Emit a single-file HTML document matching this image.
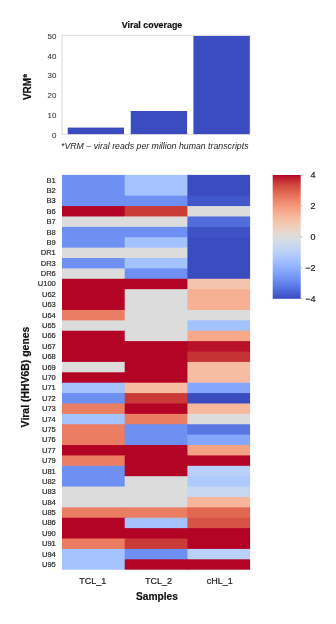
<!DOCTYPE html>
<html><head><meta charset="utf-8"><title>Viral coverage</title>
<style>
html,body{margin:0;padding:0;background:#fff;}
body{width:336px;height:624px;position:relative;overflow:hidden;font-family:"Liberation Sans",sans-serif;color:#222;}
.a{position:absolute;}
.t{position:absolute;white-space:nowrap;line-height:1;}
#tx{position:absolute;left:0;top:0;width:336px;height:624px;will-change:transform;-webkit-text-stroke:0.2px currentColor;}
.c{position:absolute;}
.yl{position:absolute;white-space:nowrap;line-height:1;font-size:7.55px;text-align:right;width:40px;color:#2a2a2a;}
.bt{position:absolute;white-space:nowrap;line-height:1;font-size:7.9px;text-align:right;width:30px;color:#3a3a3a;-webkit-text-stroke:0.08px currentColor;}
.xl{position:absolute;white-space:nowrap;line-height:1;font-size:9.0px;text-align:center;width:60px;color:#222;}
.cl{position:absolute;white-space:nowrap;line-height:1;font-size:9.0px;text-align:right;width:20px;color:#222;}
.rot{position:absolute;white-space:nowrap;line-height:1;font-weight:bold;transform:translate(-50%,-50%) rotate(-90deg);color:#111;}
</style></head><body>
<svg class="a" style="left:0;top:0;" width="336" height="624" viewBox="0 0 336 624"><defs><linearGradient id="cw" x1="0" y1="0" x2="0" y2="1"><stop offset="0.0000" stop-color="#b40426"/><stop offset="0.0312" stop-color="#be242e"/><stop offset="0.0625" stop-color="#ca3b37"/><stop offset="0.0938" stop-color="#d44e41"/><stop offset="0.1250" stop-color="#dd5f4b"/><stop offset="0.1562" stop-color="#e46e56"/><stop offset="0.1875" stop-color="#eb7d62"/><stop offset="0.2188" stop-color="#f08b6e"/><stop offset="0.2500" stop-color="#f4987a"/><stop offset="0.2812" stop-color="#f6a586"/><stop offset="0.3125" stop-color="#f7b093"/><stop offset="0.3438" stop-color="#f7ba9f"/><stop offset="0.3750" stop-color="#f5c4ac"/><stop offset="0.4062" stop-color="#f1ccb8"/><stop offset="0.4375" stop-color="#ecd3c5"/><stop offset="0.4688" stop-color="#e5d8d1"/><stop offset="0.5000" stop-color="#dddcdc"/><stop offset="0.5312" stop-color="#d5dbe5"/><stop offset="0.5625" stop-color="#ccd9ed"/><stop offset="0.5938" stop-color="#c3d5f4"/><stop offset="0.6250" stop-color="#b9d0f9"/><stop offset="0.6562" stop-color="#aec9fc"/><stop offset="0.6875" stop-color="#a3c2fe"/><stop offset="0.7188" stop-color="#98b9ff"/><stop offset="0.7500" stop-color="#8db0fe"/><stop offset="0.7812" stop-color="#82a6fb"/><stop offset="0.8125" stop-color="#779af7"/><stop offset="0.8438" stop-color="#6c8ff1"/><stop offset="0.8750" stop-color="#6282ea"/><stop offset="0.9062" stop-color="#5875e1"/><stop offset="0.9375" stop-color="#4e68d8"/><stop offset="0.9688" stop-color="#445acc"/><stop offset="1.0000" stop-color="#3b4cc0"/></linearGradient></defs><path d="M250.3 35.4H62V134.4H250.3" fill="none" stroke="#e1e1e1" stroke-width="1.3"/><path d="M250.3 35.4V134.4" fill="none" stroke="#ececec" stroke-width="0.8"/><rect x="67.70" y="127.60" width="56.30" height="6.50" fill="#3b4cc0"/><rect x="130.75" y="111.00" width="56.35" height="23.10" fill="#3b4cc0"/><rect x="193.40" y="36.00" width="56.40" height="98.10" fill="#3b4cc0"/><rect x="62.00" y="174.90" width="63.70" height="11.39" fill="#6e90f2"/><rect x="124.70" y="174.90" width="63.70" height="11.39" fill="#a3c2fe"/><rect x="187.40" y="174.90" width="62.70" height="11.39" fill="#3b4cc0"/><rect x="62.00" y="185.29" width="63.70" height="11.39" fill="#6e90f2"/><rect x="124.70" y="185.29" width="63.70" height="11.39" fill="#a3c2fe"/><rect x="187.40" y="185.29" width="62.70" height="11.39" fill="#3b4cc0"/><rect x="62.00" y="195.68" width="63.70" height="11.39" fill="#6e90f2"/><rect x="124.70" y="195.68" width="63.70" height="11.39" fill="#6e90f2"/><rect x="187.40" y="195.68" width="62.70" height="11.39" fill="#4257c9"/><rect x="62.00" y="206.07" width="63.70" height="11.39" fill="#b40426"/><rect x="124.70" y="206.07" width="63.70" height="11.39" fill="#ca3b37"/><rect x="187.40" y="206.07" width="62.70" height="11.39" fill="#dddcdc"/><rect x="62.00" y="216.46" width="63.70" height="11.39" fill="#dddcdc"/><rect x="124.70" y="216.46" width="63.70" height="11.39" fill="#dddcdc"/><rect x="187.40" y="216.46" width="62.70" height="11.39" fill="#516ddb"/><rect x="62.00" y="226.85" width="63.70" height="11.39" fill="#6e90f2"/><rect x="124.70" y="226.85" width="63.70" height="11.39" fill="#6e90f2"/><rect x="187.40" y="226.85" width="62.70" height="11.39" fill="#3e51c5"/><rect x="62.00" y="237.24" width="63.70" height="11.39" fill="#6e90f2"/><rect x="124.70" y="237.24" width="63.70" height="11.39" fill="#a3c2fe"/><rect x="187.40" y="237.24" width="62.70" height="11.39" fill="#3b4cc0"/><rect x="62.00" y="247.63" width="63.70" height="11.39" fill="#dddcdc"/><rect x="124.70" y="247.63" width="63.70" height="11.39" fill="#dddcdc"/><rect x="187.40" y="247.63" width="62.70" height="11.39" fill="#3b4cc0"/><rect x="62.00" y="258.02" width="63.70" height="11.39" fill="#6e90f2"/><rect x="124.70" y="258.02" width="63.70" height="11.39" fill="#a3c2fe"/><rect x="187.40" y="258.02" width="62.70" height="11.39" fill="#3b4cc0"/><rect x="62.00" y="268.41" width="63.70" height="11.39" fill="#dddcdc"/><rect x="124.70" y="268.41" width="63.70" height="11.39" fill="#6e90f2"/><rect x="187.40" y="268.41" width="62.70" height="11.39" fill="#3b4cc0"/><rect x="62.00" y="278.79" width="63.70" height="11.39" fill="#b40426"/><rect x="124.70" y="278.79" width="63.70" height="11.39" fill="#b40426"/><rect x="187.40" y="278.79" width="62.70" height="11.39" fill="#f5c4ac"/><rect x="62.00" y="289.18" width="63.70" height="11.39" fill="#b40426"/><rect x="124.70" y="289.18" width="63.70" height="11.39" fill="#dddcdc"/><rect x="187.40" y="289.18" width="62.70" height="11.39" fill="#f7b093"/><rect x="62.00" y="299.57" width="63.70" height="11.39" fill="#b40426"/><rect x="124.70" y="299.57" width="63.70" height="11.39" fill="#dddcdc"/><rect x="187.40" y="299.57" width="62.70" height="11.39" fill="#f7b093"/><rect x="62.00" y="309.96" width="63.70" height="11.39" fill="#eb7d62"/><rect x="124.70" y="309.96" width="63.70" height="11.39" fill="#dddcdc"/><rect x="187.40" y="309.96" width="62.70" height="11.39" fill="#dddcdc"/><rect x="62.00" y="320.35" width="63.70" height="11.39" fill="#dddcdc"/><rect x="124.70" y="320.35" width="63.70" height="11.39" fill="#dddcdc"/><rect x="187.40" y="320.35" width="62.70" height="11.39" fill="#a3c2fe"/><rect x="62.00" y="330.74" width="63.70" height="11.39" fill="#b40426"/><rect x="124.70" y="330.74" width="63.70" height="11.39" fill="#dddcdc"/><rect x="187.40" y="330.74" width="62.70" height="11.39" fill="#f7a889"/><rect x="62.00" y="341.13" width="63.70" height="11.39" fill="#b40426"/><rect x="124.70" y="341.13" width="63.70" height="11.39" fill="#b40426"/><rect x="187.40" y="341.13" width="62.70" height="11.39" fill="#b8122a"/><rect x="62.00" y="351.52" width="63.70" height="11.39" fill="#b40426"/><rect x="124.70" y="351.52" width="63.70" height="11.39" fill="#b40426"/><rect x="187.40" y="351.52" width="62.70" height="11.39" fill="#c53334"/><rect x="62.00" y="361.91" width="63.70" height="11.39" fill="#dddcdc"/><rect x="124.70" y="361.91" width="63.70" height="11.39" fill="#b40426"/><rect x="187.40" y="361.91" width="62.70" height="11.39" fill="#f6bda2"/><rect x="62.00" y="372.30" width="63.70" height="11.39" fill="#b40426"/><rect x="124.70" y="372.30" width="63.70" height="11.39" fill="#b40426"/><rect x="187.40" y="372.30" width="62.70" height="11.39" fill="#f6bda2"/><rect x="62.00" y="382.69" width="63.70" height="11.39" fill="#a3c2fe"/><rect x="124.70" y="382.69" width="63.70" height="11.39" fill="#f6bda2"/><rect x="187.40" y="382.69" width="62.70" height="11.39" fill="#84a7fc"/><rect x="62.00" y="393.08" width="63.70" height="11.39" fill="#6e90f2"/><rect x="124.70" y="393.08" width="63.70" height="11.39" fill="#ca3b37"/><rect x="187.40" y="393.08" width="62.70" height="11.39" fill="#3b4cc0"/><rect x="62.00" y="403.47" width="63.70" height="11.39" fill="#eb7d62"/><rect x="124.70" y="403.47" width="63.70" height="11.39" fill="#b40426"/><rect x="187.40" y="403.47" width="62.70" height="11.39" fill="#f7b99e"/><rect x="62.00" y="413.86" width="63.70" height="11.39" fill="#a3c2fe"/><rect x="124.70" y="413.86" width="63.70" height="11.39" fill="#eb7d62"/><rect x="187.40" y="413.86" width="62.70" height="11.39" fill="#dddcdc"/><rect x="62.00" y="424.25" width="63.70" height="11.39" fill="#eb7d62"/><rect x="124.70" y="424.25" width="63.70" height="11.39" fill="#6e90f2"/><rect x="187.40" y="424.25" width="62.70" height="11.39" fill="#5977e3"/><rect x="62.00" y="434.64" width="63.70" height="11.39" fill="#eb7d62"/><rect x="124.70" y="434.64" width="63.70" height="11.39" fill="#6e90f2"/><rect x="187.40" y="434.64" width="62.70" height="11.39" fill="#84a7fc"/><rect x="62.00" y="445.03" width="63.70" height="11.39" fill="#b40426"/><rect x="124.70" y="445.03" width="63.70" height="11.39" fill="#b40426"/><rect x="187.40" y="445.03" width="62.70" height="11.39" fill="#f6a385"/><rect x="62.00" y="455.42" width="63.70" height="11.39" fill="#eb7d62"/><rect x="124.70" y="455.42" width="63.70" height="11.39" fill="#b40426"/><rect x="187.40" y="455.42" width="62.70" height="11.39" fill="#b40426"/><rect x="62.00" y="465.81" width="63.70" height="11.39" fill="#6e90f2"/><rect x="124.70" y="465.81" width="63.70" height="11.39" fill="#b40426"/><rect x="187.40" y="465.81" width="62.70" height="11.39" fill="#b9d0f9"/><rect x="62.00" y="476.19" width="63.70" height="11.39" fill="#6e90f2"/><rect x="124.70" y="476.19" width="63.70" height="11.39" fill="#dddcdc"/><rect x="187.40" y="476.19" width="62.70" height="11.39" fill="#afcafc"/><rect x="62.00" y="486.58" width="63.70" height="11.39" fill="#dddcdc"/><rect x="124.70" y="486.58" width="63.70" height="11.39" fill="#dddcdc"/><rect x="187.40" y="486.58" width="62.70" height="11.39" fill="#c7d7f0"/><rect x="62.00" y="496.97" width="63.70" height="11.39" fill="#dddcdc"/><rect x="124.70" y="496.97" width="63.70" height="11.39" fill="#dddcdc"/><rect x="187.40" y="496.97" width="62.70" height="11.39" fill="#f7b599"/><rect x="62.00" y="507.36" width="63.70" height="11.39" fill="#eb7d62"/><rect x="124.70" y="507.36" width="63.70" height="11.39" fill="#eb7d62"/><rect x="187.40" y="507.36" width="62.70" height="11.39" fill="#e16751"/><rect x="62.00" y="517.75" width="63.70" height="11.39" fill="#b40426"/><rect x="124.70" y="517.75" width="63.70" height="11.39" fill="#a3c2fe"/><rect x="187.40" y="517.75" width="62.70" height="11.39" fill="#d65244"/><rect x="62.00" y="528.14" width="63.70" height="11.39" fill="#b40426"/><rect x="124.70" y="528.14" width="63.70" height="11.39" fill="#b40426"/><rect x="187.40" y="528.14" width="62.70" height="11.39" fill="#b40426"/><rect x="62.00" y="538.53" width="63.70" height="11.39" fill="#eb7d62"/><rect x="124.70" y="538.53" width="63.70" height="11.39" fill="#ca3b37"/><rect x="187.40" y="538.53" width="62.70" height="11.39" fill="#b40426"/><rect x="62.00" y="548.92" width="63.70" height="11.39" fill="#a3c2fe"/><rect x="124.70" y="548.92" width="63.70" height="11.39" fill="#6e90f2"/><rect x="187.40" y="548.92" width="62.70" height="11.39" fill="#b9d0f9"/><rect x="62.00" y="559.31" width="63.70" height="10.39" fill="#a3c2fe"/><rect x="124.70" y="559.31" width="63.70" height="10.39" fill="#b40426"/><rect x="187.40" y="559.31" width="62.70" height="10.39" fill="#b40426"/><rect x="272.70" y="175.00" width="28.00" height="123.80" fill="url(#cw)"/><rect x="300.70" y="174.65" width="1.6" height="0.7" fill="#8a8a8a"/><rect x="300.70" y="205.60" width="1.6" height="0.7" fill="#8a8a8a"/><rect x="300.70" y="236.55" width="1.6" height="0.7" fill="#8a8a8a"/><rect x="300.70" y="267.50" width="1.6" height="0.7" fill="#8a8a8a"/><rect x="300.70" y="298.45" width="1.6" height="0.7" fill="#8a8a8a"/></svg>
<div id="tx">
<div class="t" style="left:92px;width:120px;text-align:center;top:21.1px;font-size:8.9px;font-weight:bold;color:#111;">Viral coverage</div>
<div class="bt" style="left:26.3px;top:32.7px;">50</div>
<div class="bt" style="left:26.3px;top:52.5px;">40</div>
<div class="bt" style="left:26.3px;top:72.2px;">30</div>
<div class="bt" style="left:26.3px;top:92.0px;">20</div>
<div class="bt" style="left:26.3px;top:111.7px;">10</div>
<div class="bt" style="left:26.3px;top:131.5px;">0</div>
<div class="rot" style="left:27.6px;top:87.4px;font-size:10px;">VRM*</div>
<div class="t" style="left:61.0px;top:141.7px;font-size:8.77px;font-style:italic;color:#222;-webkit-text-stroke:0;">*VRM – viral reads per million human transcripts</div>
<div class="yl" style="left:15.8px;top:176.59px;">B1</div>
<div class="yl" style="left:15.8px;top:186.98px;">B2</div>
<div class="yl" style="left:15.8px;top:197.37px;">B3</div>
<div class="yl" style="left:15.8px;top:207.76px;">B6</div>
<div class="yl" style="left:15.8px;top:218.15px;">B7</div>
<div class="yl" style="left:15.8px;top:228.54px;">B8</div>
<div class="yl" style="left:15.8px;top:238.93px;">B9</div>
<div class="yl" style="left:15.8px;top:249.32px;">DR1</div>
<div class="yl" style="left:15.8px;top:259.71px;">DR3</div>
<div class="yl" style="left:15.8px;top:270.10px;">DR6</div>
<div class="yl" style="left:15.8px;top:280.49px;">U100</div>
<div class="yl" style="left:15.8px;top:290.88px;">U62</div>
<div class="yl" style="left:15.8px;top:301.27px;">U63</div>
<div class="yl" style="left:15.8px;top:311.66px;">U64</div>
<div class="yl" style="left:15.8px;top:322.05px;">U65</div>
<div class="yl" style="left:15.8px;top:332.44px;">U66</div>
<div class="yl" style="left:15.8px;top:342.83px;">U67</div>
<div class="yl" style="left:15.8px;top:353.22px;">U68</div>
<div class="yl" style="left:15.8px;top:363.61px;">U69</div>
<div class="yl" style="left:15.8px;top:373.99px;">U70</div>
<div class="yl" style="left:15.8px;top:384.38px;">U71</div>
<div class="yl" style="left:15.8px;top:394.77px;">U72</div>
<div class="yl" style="left:15.8px;top:405.16px;">U73</div>
<div class="yl" style="left:15.8px;top:415.55px;">U74</div>
<div class="yl" style="left:15.8px;top:425.94px;">U75</div>
<div class="yl" style="left:15.8px;top:436.33px;">U76</div>
<div class="yl" style="left:15.8px;top:446.72px;">U77</div>
<div class="yl" style="left:15.8px;top:457.11px;">U79</div>
<div class="yl" style="left:15.8px;top:467.50px;">U81</div>
<div class="yl" style="left:15.8px;top:477.89px;">U82</div>
<div class="yl" style="left:15.8px;top:488.28px;">U83</div>
<div class="yl" style="left:15.8px;top:498.67px;">U84</div>
<div class="yl" style="left:15.8px;top:509.06px;">U85</div>
<div class="yl" style="left:15.8px;top:519.45px;">U86</div>
<div class="yl" style="left:15.8px;top:529.84px;">U90</div>
<div class="yl" style="left:15.8px;top:540.23px;">U91</div>
<div class="yl" style="left:15.8px;top:550.62px;">U94</div>
<div class="yl" style="left:15.8px;top:561.01px;">U95</div>
<div class="rot" style="left:26px;top:377px;font-size:10.45px;">Viral (HHV6B) genes</div>
<div class="xl" style="left:62.7px;top:577.0px;">TCL_1</div>
<div class="xl" style="left:128.5px;top:577.0px;">TCL_2</div>
<div class="xl" style="left:189.8px;top:577.0px;">cHL_1</div>
<div class="t" style="left:96.9px;width:120px;text-align:center;top:592.0px;font-size:10.2px;font-weight:bold;color:#111;">Samples</div>
<div class="cl" style="left:295.4px;top:171.1px;">4</div>
<div class="cl" style="left:295.4px;top:202.0px;">2</div>
<div class="cl" style="left:295.4px;top:233.0px;">0</div>
<div class="cl" style="left:295.4px;top:264.0px;">−2</div>
<div class="cl" style="left:295.4px;top:294.9px;">−4</div>
</div>
</body></html>
